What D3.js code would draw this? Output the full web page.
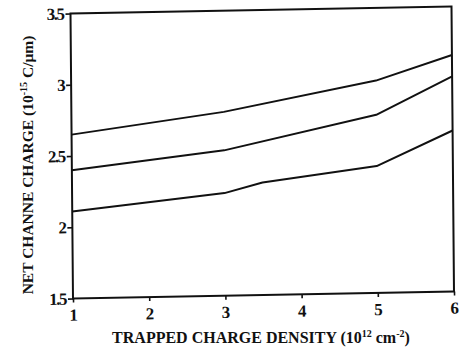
<!DOCTYPE html>
<html>
<head>
<meta charset="utf-8">
<script src="https://cdn.jsdelivr.net/npm/d3@7"></script>
<style>
  body { margin: 0; background: #fff; }
  svg text { font-family: "Liberation Serif", "DejaVu Serif", serif; fill: #111; }
  .axis path, .axis line { stroke: #111; stroke-width: 1.6; }
</style>
</head>
<body>
<svg id="chart" width="461" height="349"></svg>
<script>
const xTicks = [1, 2, 3, 4, 5, 6];
const yTicks = [1.5, 2, 2.5, 3, 3.5];
const yTickLabels = ["1.5", "2", "2.5", "3", "3.5"];

// three curves
const upperX = [1, 3, 5, 6];
const upperY = [2.65, 2.79, 2.99, 3.16];
const middleX = [1, 3, 5, 6];
const middleY = [2.40, 2.52, 2.75, 3.01];
const lowerX = [1, 3, 3.5, 5, 6];
const lowerY = [2.11, 2.22, 2.29, 2.39, 2.63];

const w = 381, h = 285;

const svg = d3.select("#chart");

// the scanned frame is slightly tilted, mimic it with a small skew
const plot = svg.append("g")
    .attr("transform", `matrix(1,${-7 / w},${2.5 / h},1,70.5,13.5)`);

const x = d3.scaleLinear([1, 6], [0, w]);
const y = d3.scaleLinear([1.5, 3.5], [h, 0]);

plot.append("rect")
    .attr("width", w)
    .attr("height", h)
    .attr("fill", "none")
    .attr("stroke", "#111")
    .attr("stroke-width", 2);

plot.append("g")
    .attr("class", "axis")
    .attr("transform", `translate(0,${h})`)
    .call(d3.axisBottom(x).tickValues(xTicks).tickFormat(d3.format("d")).tickSize(4).tickSizeOuter(0))
    .call(g => g.select(".domain").remove())
    .selectAll("text")
        .attr("dy", "0.9em")
        .style("font-size", "17px")
        .style("font-weight", "bold");

plot.append("g")
    .attr("class", "axis")
    .call(d3.axisLeft(y).tickValues(yTicks).tickFormat((d, i) => yTickLabels[i]).tickSize(5).tickPadding(2).tickSizeOuter(0))
    .call(g => g.select(".domain").remove())
    .selectAll("text")
        .style("font-size", "17px")
        .style("font-weight", "bold")
        .style("letter-spacing", "-1.5px");

const line = d3.line()
    .x(d => x(d[0]))
    .y(d => y(d[1]));

[[upperX, upperY], [middleX, middleY], [lowerX, lowerY]].forEach(function (s) {
    plot.append("path")
        .datum(d3.zip(s[0], s[1]))
        .attr("fill", "none")
        .attr("stroke", "#111")
        .attr("stroke-width", 2)
        .attr("stroke-linejoin", "round")
        .attr("d", line);
});

// axis titles
const xt = svg.append("text")
    .attr("x", 261)
    .attr("y", 343)
    .attr("text-anchor", "middle")
    .style("font-size", "16px")
    .style("font-weight", "bold");
xt.append("tspan").text("TRAPPED CHARGE DENSITY (10");
xt.append("tspan").attr("dy", -6).style("font-size", "10px").text("12");
xt.append("tspan").attr("dy", 6).text(" cm");
xt.append("tspan").attr("dy", -6).style("font-size", "10px").text("-2");
xt.append("tspan").attr("dy", 6).text(")");

const yt = svg.append("text")
    .attr("transform", "translate(33,165) rotate(-90)")
    .attr("text-anchor", "middle")
    .style("font-size", "15.5px")
    .style("font-weight", "bold");
yt.append("tspan").text("NET CHANNE CHARGE (10");
yt.append("tspan").attr("dy", -6).style("font-size", "10px").text("-15");
yt.append("tspan").attr("dy", 6).text(" C/\u03bcm)");
</script>
</body>
</html>
